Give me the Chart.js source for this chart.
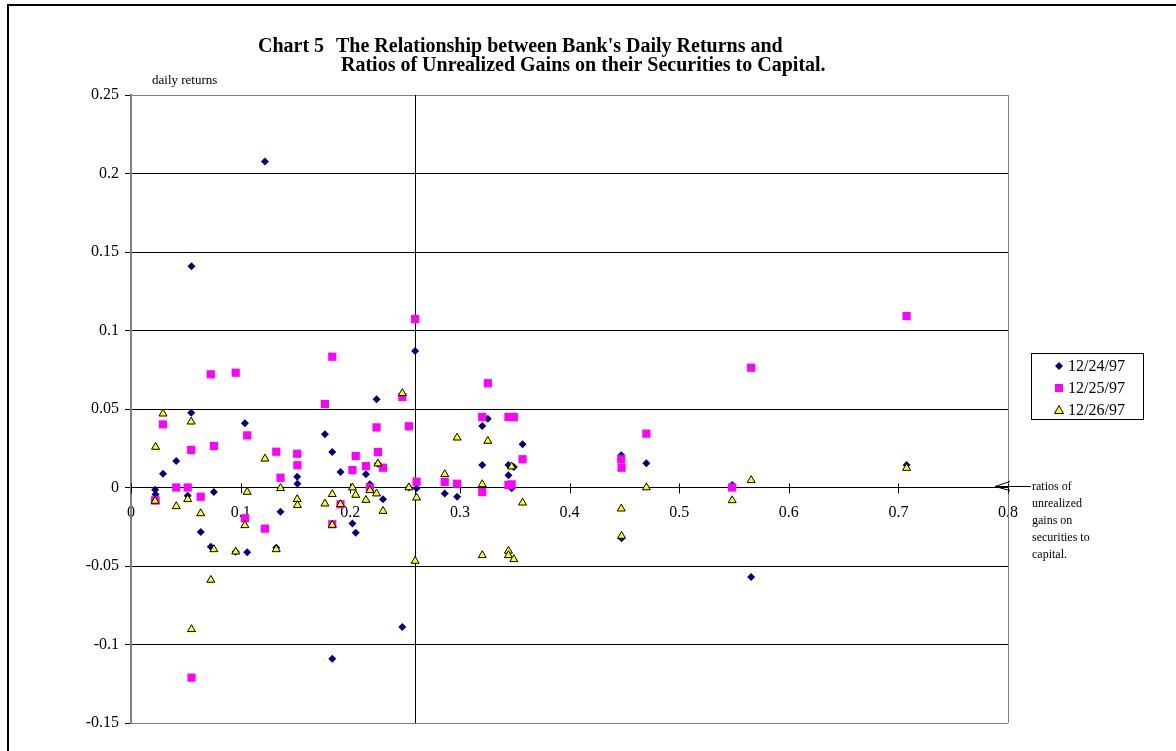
<!DOCTYPE html>
<html>
<head>
<meta charset="utf-8">
<title>Chart 5</title>
<script src="https://cdn.jsdelivr.net/npm/chart.js@4.4.0/dist/chart.umd.min.js"></script>
<style>
  html, body { margin: 0; padding: 0; background: #fff; }
</style>
</head>
<body>
<canvas id="graph" width="1176" height="751"></canvas>
<script>
// ratio of unrealized gains on securities to capital (one per bank)
var ratios = [0.0220, 0.0224, 0.0292, 0.0413, 0.0517, 0.0549, 0.0552, 0.0636, 0.0728, 0.0756,
              0.0955, 0.1039, 0.1060, 0.1222, 0.1325, 0.1364, 0.1516, 0.1518, 0.1769, 0.1836,
              0.1836, 0.1911, 0.2020, 0.2050, 0.2143, 0.2179, 0.2240, 0.2252, 0.2299, 0.2475,
              0.2535, 0.2592, 0.2605, 0.2862, 0.2975, 0.3204, 0.3204, 0.3255, 0.3443, 0.3443,
              0.3472, 0.3492, 0.3572, 0.4472, 0.4475, 0.4701, 0.5484, 0.5657, 0.7075];

// daily returns
var ret1224 = [-0.0015, -0.0045, 0.0088, 0.0169, -0.0052, 0.0476, 0.1410, -0.0283, -0.0377, -0.0029,
               -0.0409, 0.0409, -0.0413, 0.2076, -0.0383, -0.0154, 0.0069, 0.0024, 0.0339, 0.0226,
               -0.1090, 0.0099, -0.0230, -0.0288, 0.0084, 0.0020, 0.0562, 0.0152, -0.0075, -0.0889,
               0.0000, 0.0870, -0.0005, -0.0039, -0.0059, 0.0392, 0.0143, 0.0438, 0.0143, 0.0078,
               -0.0005, 0.0131, 0.0275, 0.0205, -0.0324, 0.0154, 0.0016, -0.0570, 0.0143];
var ret1225 = [-0.0082, -0.0082, 0.0402, 0.0000, 0.0000, 0.0239, -0.1211, -0.0059, 0.0721, 0.0264,
               0.0731, -0.0196, 0.0332, -0.0262, 0.0228, 0.0062, 0.0215, 0.0142, 0.0532, 0.0833,
               -0.0234, -0.0107, 0.0111, 0.0201, 0.0136, 0.0000, 0.0383, 0.0226, 0.0126, 0.0576,
               0.0390, 0.1073, 0.0037, 0.0035, 0.0024, 0.0449, -0.0029, 0.0664, 0.0016, 0.0449,
               0.0020, 0.0449, 0.0180, 0.0180, 0.0126, 0.0343, 0.0000, 0.0763, 0.1092];
var ret1226 = [-0.0086, 0.0258, 0.0470, -0.0120, -0.0075, 0.0419, -0.0903, -0.0165, -0.0589, -0.0394,
               -0.0409, -0.0241, -0.0029, 0.0183, -0.0394, -0.0005, -0.0075, -0.0113, -0.0103, -0.0043,
               -0.0239, -0.0107, -0.0001, -0.0048, -0.0080, -0.0018, -0.0039, 0.0152, -0.0150, 0.0600,
               0.0000, -0.0468, -0.0065, 0.0084, 0.0317, 0.0020, -0.0432, 0.0296, -0.0404, -0.0432,
               0.0133, -0.0457, -0.0097, -0.0135, -0.0309, 0.0000, -0.0082, 0.0046, 0.0124];

var seriesLabels = ['12/24/97', '12/25/97', '12/26/97'];

var xTicks = [0, 0.1, 0.2, 0.3, 0.4, 0.5, 0.6, 0.7, 0.8];
var xTickLabels = ['0', '0.1', '0.2', '0.3', '0.4', '0.5', '0.6', '0.7', '0.8'];
var yTicks = [-0.15, -0.1, -0.05, 0, 0.05, 0.1, 0.15, 0.2, 0.25];
var yTickLabels = ['-0.15', '-0.1', '-0.05', '0', '0.05', '0.1', '0.15', '0.2', '0.25'];

// where the vertical value axis crosses the category axis
var yAxisCross = 0.2587;

var serif = "'Liberation Serif', 'Times New Roman', serif";

function points(ys) {
    return ratios.map(function(x, i) { return {x: x, y: ys[i]}; });
}

// title, legend, axis notes and the crossing lines
var decorations = {
    id: 'decorations',
    beforeDatasetsDraw: function(chart) {
        var ctx = chart.ctx, a = chart.chartArea;
        var xs = chart.scales.x, ys = chart.scales.y;
        ctx.save();
        ctx.lineWidth = 1;
        ctx.strokeStyle = '#808080';
        ctx.beginPath();
        ctx.moveTo(Math.round(a.right) + 0.5, a.top);
        ctx.lineTo(Math.round(a.right) + 0.5, a.bottom);
        ctx.stroke();

        ctx.strokeStyle = '#000';
        var vx = Math.round(xs.getPixelForValue(yAxisCross)) + 0.5;
        ctx.beginPath();
        ctx.moveTo(vx, a.top);
        ctx.lineTo(vx, a.bottom);
        ctx.stroke();

        var y0 = Math.round(ys.getPixelForValue(0)) + 0.5;
        ctx.beginPath();
        xTicks.forEach(function(v) {
            var px = Math.round(xs.getPixelForValue(v)) + 0.5;
            ctx.moveTo(px, y0 - 5);
            ctx.lineTo(px, y0 + 5);
        });
        ctx.stroke();
        ctx.restore();
    },
    afterDraw: function(chart) {
        var ctx = chart.ctx;
        ctx.save();
        // outer frame
        ctx.fillStyle = '#000';
        ctx.fillRect(7, 4, 1169, 2);
        ctx.fillRect(7, 4, 2, 747);

        // title
        ctx.font = 'bold 20px ' + serif;
        ctx.textBaseline = 'alphabetic';
        ctx.textAlign = 'left';
        ctx.fillText('Chart 5', 258, 52);
        ctx.fillText("The Relationship between Bank's Daily Returns and", 336, 52);
        ctx.fillText('Ratios of Unrealized Gains on their Securities to Capital.', 341, 71);

        // axis notes
        ctx.font = '13px ' + serif;
        ctx.fillText('daily returns', 152, 84);
        ctx.font = '12px ' + serif;
        var note = ['ratios of', 'unrealized', 'gains on', 'securities to', 'capital.'];
        note.forEach(function(t, i) {
            ctx.fillText(t, 1032, 490 + i * 17);
        });
        ctx.strokeStyle = '#000';
        ctx.lineWidth = 1;
        ctx.beginPath();
        ctx.moveTo(1031, 486.5);
        ctx.lineTo(995, 486.5);
        ctx.moveTo(1010, 481.5);
        ctx.lineTo(995, 486.5);
        ctx.lineTo(1010, 490.5);
        ctx.stroke();

        // legend
        ctx.strokeStyle = '#000';
        ctx.strokeRect(1031.5, 353.5, 112, 66);
        ctx.font = '16px ' + serif;
        ctx.textBaseline = 'middle';
        var rows = [366, 388, 410];
        var mx = 1059;
        rows.forEach(function(ry, i) {
            ctx.beginPath();
            if (i === 0) {
                ctx.fillStyle = '#000080';
                ctx.moveTo(mx, ry - 4); ctx.lineTo(mx + 4, ry); ctx.lineTo(mx, ry + 4); ctx.lineTo(mx - 4, ry);
                ctx.closePath(); ctx.fill();
            } else if (i === 1) {
                ctx.fillStyle = '#FF00FF';
                ctx.fillRect(mx - 4, ry - 4, 8, 8);
            } else {
                ctx.fillStyle = '#FFFF00';
                ctx.moveTo(mx, ry - 4.5); ctx.lineTo(mx + 4.5, ry + 3.5); ctx.lineTo(mx - 4.5, ry + 3.5);
                ctx.closePath(); ctx.fill(); ctx.stroke();
            }
            ctx.fillStyle = '#000';
            ctx.fillText(seriesLabels[i], 1068, ry + 1);
        });
        ctx.restore();
    }
};

document.addEventListener('DOMContentLoaded', function() {
    Chart.defaults.font.family = serif;
    Chart.defaults.font.size = 16;
    Chart.defaults.color = '#000';

    var ctx = document.getElementById('graph').getContext('2d');
    var chart = new Chart(ctx, {
        type: 'scatter',
        data: {
            datasets: [{
                label: seriesLabels[0],
                data: points(ret1224),
                pointStyle: 'rectRot',
                pointRadius: 4,
                borderWidth: 0,
                backgroundColor: '#000080',
                borderColor: '#000080',
                order: 2
            }, {
                label: seriesLabels[1],
                data: points(ret1225),
                pointStyle: 'rect',
                pointRadius: 5.8,
                borderWidth: 0,
                backgroundColor: '#FF00FF',
                borderColor: '#FF00FF',
                order: 1
            }, {
                label: seriesLabels[2],
                data: points(ret1226),
                pointStyle: 'triangle',
                pointRadius: 4.6,
                borderWidth: 1,
                backgroundColor: '#FFFF00',
                borderColor: '#000',
                order: 0
            }]
        },
        options: {
            responsive: false,
            animation: false,
            layout: {
                padding: {left: 0, top: 95, right: 168, bottom: 28}
            },
            plugins: {
                legend: {display: false},
                tooltip: {enabled: false}
            },
            scales: {
                x: {
                    type: 'linear',
                    position: {y: 0},
                    min: 0,
                    max: 0.8,
                    afterBuildTicks: function(scale) {
                        scale.ticks = xTicks.map(function(v) { return {value: v}; });
                    },
                    afterFit: function(scale) { scale.height = 0; },
                    grid: {display: false},
                    border: {display: true, color: '#000', width: 1},
                    ticks: {
                        padding: 8,
                        maxRotation: 0,
                        autoSkip: false,
                        callback: function(value, index) { return xTickLabels[index]; }
                    }
                },
                y: {
                    type: 'linear',
                    min: -0.15,
                    max: 0.25,
                    afterBuildTicks: function(scale) {
                        scale.ticks = yTicks.map(function(v) { return {value: v}; });
                    },
                    afterFit: function(scale) { scale.width = 131; },
                    grid: {
                        color: function(c) {
                            var v = c.tick ? c.tick.value : 0;
                            return (Math.abs(v - 0.25) < 1e-9 || Math.abs(v + 0.15) < 1e-9) ? '#808080' : '#000';
                        },
                        tickColor: '#000',
                        tickLength: 6,
                        lineWidth: 1
                    },
                    border: {display: true, color: '#808080', width: 2},
                    ticks: {
                        padding: 6,
                        autoSkip: false,
                        callback: function(value, index) { return yTickLabels[index]; }
                    }
                }
            }
        },
        plugins: [decorations]
    });
});
</script>
</body>
</html>
